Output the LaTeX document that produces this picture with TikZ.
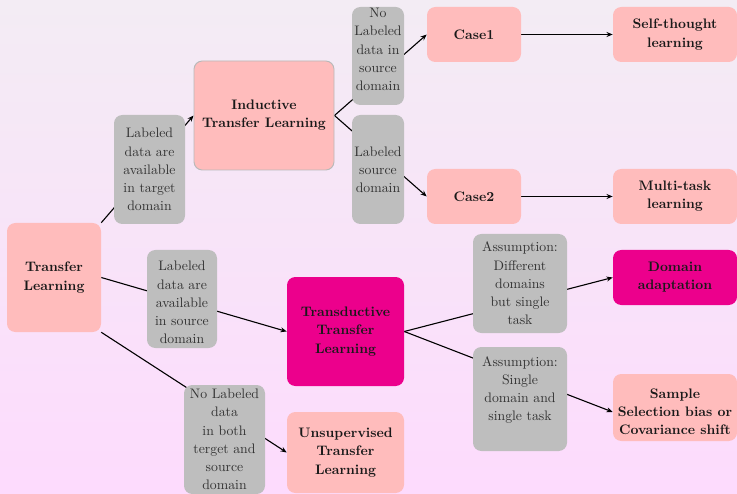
\documentclass[tikz,border=0pt]{standalone}
\usetikzlibrary{arrows.meta}
\definecolor{pinkbox}{HTML}{FFBCBC}
\definecolor{magbox}{HTML}{EC008C}
\definecolor{graybox}{HTML}{BEBEBE}
\definecolor{bgtop}{HTML}{F3ECF4}
\definecolor{bgbot}{HTML}{FDDBFD}
\pgfdeclarelayer{bg}
\pgfdeclarelayer{edges}
\pgfsetlayers{bg,edges,main}
\begin{document}
\begin{tikzpicture}[x=0.726pt,y=-0.726pt,
  sz/.style 2 args={minimum width=#1*0.726pt, minimum height=#2*0.726pt},
  base/.style={rectangle, rounded corners=6pt, inner sep=0pt, align=center, font=\fontsize{10}{13.2}\selectfont},
  pinknode/.style={base, fill=pinkbox, font=\fontsize{10}{13.2}\selectfont\bfseries, text=black!90},
  magnode/.style={pinknode, fill=magbox},
  gbox/.style={base, fill=graybox, text=black!80},
  gtext/.style={align=center, inner sep=0pt, font=\fontsize{10}{13.2}\selectfont, text=black!80},
  ptext/.style={align=center, inner sep=0pt, font=\fontsize{10}{13.2}\selectfont\bfseries, text=black!90},
  conn/.style={line width=0.8pt, -{Stealth[length=4.5pt,width=3.6pt]}}
]
\begin{pgfonlayer}{bg}
\shade[top color=bgtop, bottom color=bgbot] (0,0) rectangle (737,494);
\end{pgfonlayer}
\useasboundingbox (0,0) rectangle (737,494);

% main nodes
\node[pinknode, sz={94}{109}] (TL) at (54,277.5) {Transfer\\Learning};
\node[pinknode, sz={140}{109}, draw=gray!55, line width=0.7pt] (Ind) at (264,115.5) {Inductive\\Transfer Learning};
\node[magnode, sz={117}{109}] (Trans) at (345.5,331.5) {Transductive\\Transfer\\Learning};
\node[pinknode, sz={117}{81}] (Uns) at (345.5,452.5) {Unsupervised\\Transfer\\Learning};
\node[pinknode, sz={94}{55}] (C1) at (474,34.5) {Case1};
\node[pinknode, sz={94}{55}] (C2) at (474,196.5) {Case2};
\node[pinknode, sz={124}{55}] (Self) at (675,34.5) {Self-thought\\learning};
\node[pinknode, sz={124}{55}] (Multi) at (675,196.5) {Multi-task\\learning};
\node[magnode, sz={124}{55}] (DA) at (675,277.5) {Domain\\adaptation};
\node[pinknode, sz={124}{67}] (Samp) at (675,407.5) {};
\node[ptext] (Sampt) at (675,412) {Sample\\Selection bias or\\Covariance shift};

% gray labels
\node[gbox, sz={71}{109}] (g1) at (149.5,169.5) {Labeled\\data are\\available\\in target\\domain};
\node[gbox, sz={52}{98}] (g2) at (378,56) {};
\node[gtext] (g2t) at (378,49.5) {No\\Labeled\\data in\\source\\domain};
\node[gbox, sz={52}{109}] (g3) at (378,169.5) {Labeled\\source\\domain};
\node[gbox, sz={70}{98}] (g4) at (182,299) {};
\node[gtext] (g4t) at (182,302.5) {Labeled\\data are\\available\\in source\\domain};
\node[gbox, sz={81}{109}] (g5) at (224.5,439.5) {No Labeled\\data\\in both\\terget and\\source\\domain};
\node[gbox, sz={94}{99}] (g6) at (520,283.5) {Assumption:\\Different\\domains\\but single\\task};
\node[gbox, sz={94}{104}] (g7) at (520,399) {};
\node[gtext] (g7t) at (520,390) {Assumption:\\Single\\domain and\\single task};

% connectors
\begin{pgfonlayer}{edges}
\draw[conn] (TL.north east) -- (Ind.west);
\draw[conn] (TL.east) -- (Trans.west);
\draw[conn] (TL.south east) -- (Uns.west);
\draw[conn] (Ind.east) -- (C1.west);
\draw[conn] (Ind.east) -- (C2.west);
\draw[conn] (C1.east) -- (Self.west);
\draw[conn] (C2.east) -- (Multi.west);
\draw[conn] (Trans.east) -- (DA.west);
\draw[conn] (Trans.east) -- (Samp.west |- Sampt);
\end{pgfonlayer}
\end{tikzpicture}
\end{document}
